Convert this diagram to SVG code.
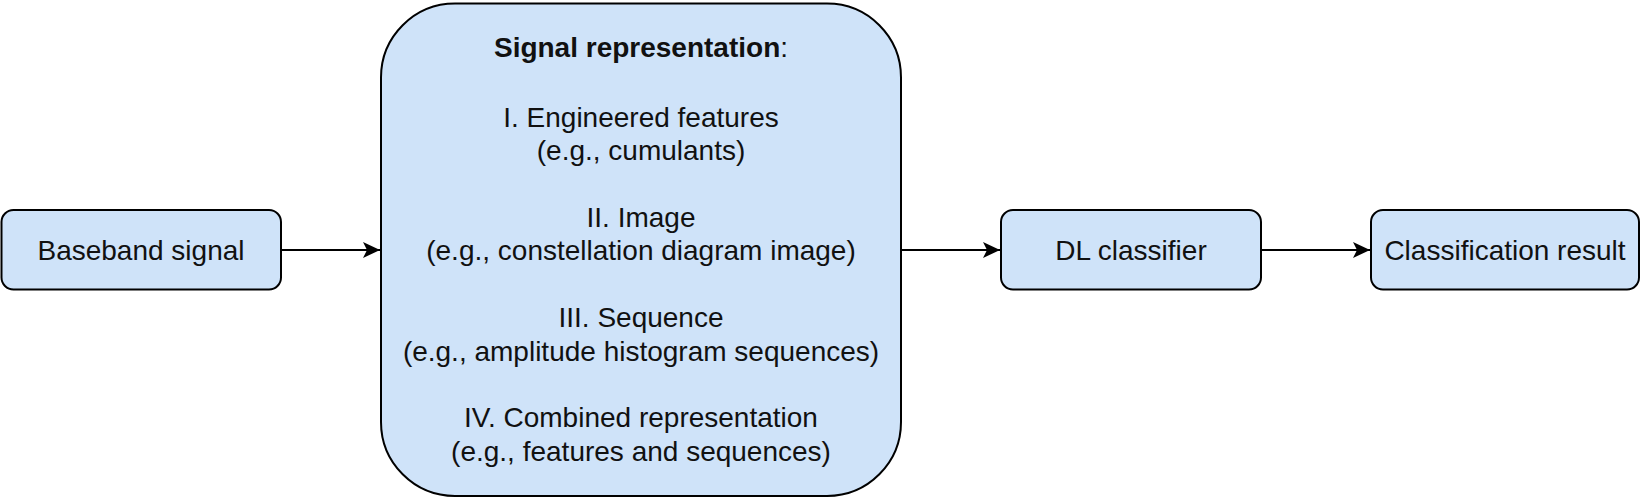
<svg xmlns="http://www.w3.org/2000/svg" width="1642" height="501" viewBox="0 0 1642 501">
<style>
.box{fill:#cfe3f9;stroke:#000;stroke-width:2}
.t{font-family:"Liberation Sans",Arial,sans-serif;font-size:28px;fill:#111;text-anchor:middle}
.b{font-weight:bold}
.edge{stroke:#000;stroke-width:2;fill:none}
</style>
<defs>
<marker id="arr" markerUnits="userSpaceOnUse" markerWidth="20" markerHeight="18" refX="18" refY="9" orient="auto">
<path d="M1,1 L18,9 L1,17 L5,9 Z" fill="#000"/>
</marker>
</defs>
<rect width="1642" height="501" fill="#fff"/>
<g id="connectors">
<line class="edge" x1="281" y1="250" x2="380" y2="250" marker-end="url(#arr)"/>
<line class="edge" x1="901" y1="250" x2="1000" y2="250" marker-end="url(#arr)"/>
<line class="edge" x1="1261" y1="250" x2="1370" y2="250" marker-end="url(#arr)"/>
</g>
<g id="baseband">
<rect class="box" x="1.5" y="210" width="279.5" height="79.5" rx="12"/>
<text class="t" x="141" y="260">Baseband signal</text>
</g>
<g id="representation">
<rect class="box" x="381" y="3.5" width="520" height="492.5" rx="74"/>
<text class="t" x="641" y="57"><tspan class="b">Signal representation</tspan>:</text>
<text class="t" x="641" y="126.5">I. Engineered features</text>
<text class="t" x="641" y="160">(e.g., cumulants)</text>
<text class="t" x="641" y="226.5">II. Image</text>
<text class="t" x="641" y="260">(e.g., constellation diagram image)</text>
<text class="t" x="641" y="327">III. Sequence</text>
<text class="t" x="641" y="360.5">(e.g., amplitude histogram sequences)</text>
<text class="t" x="641" y="427">IV. Combined representation</text>
<text class="t" x="641" y="461">(e.g., features and sequences)</text>
</g>
<g id="classifier">
<rect class="box" x="1001" y="210" width="260" height="79.5" rx="12"/>
<text class="t" x="1131" y="260">DL classifier</text>
</g>
<g id="result">
<rect class="box" x="1371" y="210" width="268" height="79.5" rx="12"/>
<text class="t" x="1505" y="260">Classification result</text>
</g>
</svg>
